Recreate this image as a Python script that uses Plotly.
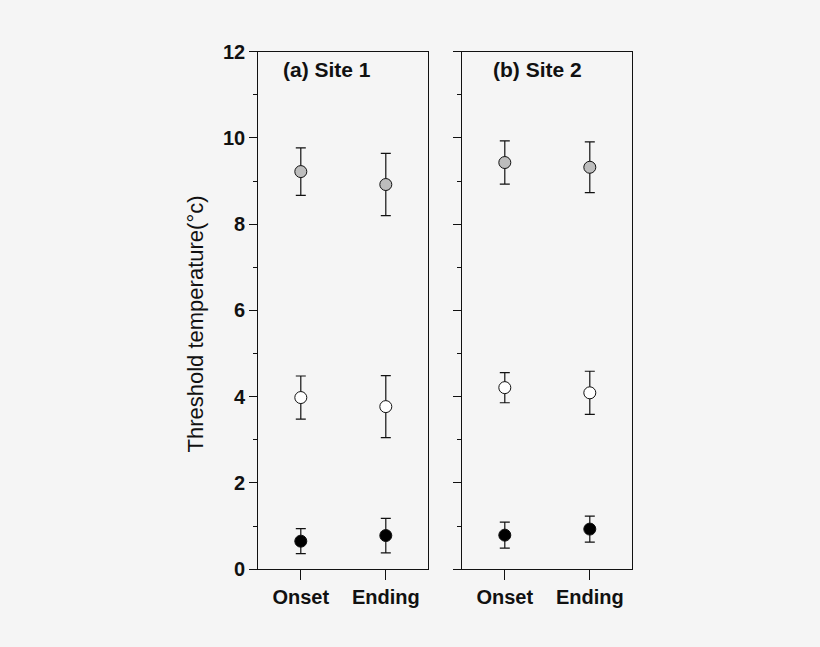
import plotly.graph_objects as go

# threshold temperature readings (°C)
stages = ["Onset", "Ending"]

site1_grey = [9.22, 8.92]
site1_grey_err = [0.55, 0.72]
site1_white = [3.98, 3.77]
site1_white_err = [0.50, 0.72]
site1_black = [0.65, 0.78]
site1_black_err = [0.29, 0.40]

site2_grey = [9.43, 9.32]
site2_grey_err = [0.50, 0.59]
site2_white = [4.21, 4.09]
site2_white_err = [0.35, 0.50]
site2_black = [0.79, 0.93]
site2_black_err = [0.30, 0.30]

panel_titles = ["(a) Site 1", "(b) Site 2"]

BG = "#f5f5f5"
INK = "#111111"
FONT = "Liberation Sans, Arial, sans-serif"

fig = go.Figure()


def add_point_series(xaxis, yaxis, values, errors, fill):
    fig.add_trace(go.Scatter(
        x=stages, y=values, xaxis=xaxis, yaxis=yaxis,
        mode="markers",
        marker=dict(size=12, color=fill, line=dict(color=INK, width=1)),
        error_y=dict(type="data", array=errors, visible=True,
                     color=INK, thickness=1.2, width=5),
        showlegend=False,
    ))


for vals, errs, fill in [(site1_grey, site1_grey_err, "#bdbdbd"),
                         (site1_white, site1_white_err, "#ffffff"),
                         (site1_black, site1_black_err, "#000000")]:
    add_point_series("x", "y", vals, errs, fill)

for vals, errs, fill in [(site2_grey, site2_grey_err, "#bdbdbd"),
                         (site2_white, site2_white_err, "#ffffff"),
                         (site2_black, site2_black_err, "#000000")]:
    add_point_series("x2", "y2", vals, errs, fill)

W, H = 820, 647
y_dom = [(H - 569.2) / H, (H - 51.7) / H]

xaxis_common = dict(
    type="category", range=[-0.5, 1.5], automargin=False,
    showline=True, linecolor=INK, linewidth=1.2, mirror=True,
    ticks="outside", ticklen=10, tickcolor=INK, tickwidth=1.2,
    tickfont=dict(family=FONT, size=20, color=INK, weight="bold"),
    showgrid=False, zeroline=False, fixedrange=True,
)
yaxis_common = dict(
    range=[0, 12], dtick=2, tick0=0, domain=y_dom, automargin=False,
    showline=True, linecolor=INK, linewidth=1.2, mirror=True,
    ticks="outside", ticklen=8, tickcolor=INK, tickwidth=1.2,
    minor=dict(dtick=1, ticks="outside", ticklen=4, tickcolor=INK, tickwidth=1.2),
    tickfont=dict(family=FONT, size=20, color=INK, weight="bold"),
    showgrid=False, zeroline=False, fixedrange=True,
)

fig.update_layout(
    width=W, height=H,
    margin=dict(l=0, r=0, t=0, b=0),
    paper_bgcolor=BG, plot_bgcolor=BG,
    xaxis=dict(xaxis_common, domain=[258.3 / W, 428.3 / W], anchor="y"),
    xaxis2=dict(xaxis_common, domain=[462.3 / W, 632.3 / W], anchor="y2"),
    yaxis=dict(yaxis_common, anchor="x"),
    yaxis2=dict(yaxis_common, anchor="x2", showticklabels=False),
)

fig.add_annotation(text=panel_titles[0], xref="x domain", yref="y domain",
                   x=0.405, y=0.966, xanchor="center", yanchor="middle",
                   showarrow=False,
                   font=dict(family=FONT, size=21, color=INK, weight="bold"))
fig.add_annotation(text=panel_titles[1], xref="x2 domain", yref="y2 domain",
                   x=0.445, y=0.966, xanchor="center", yanchor="middle",
                   showarrow=False,
                   font=dict(family=FONT, size=21, color=INK, weight="bold"))
fig.add_annotation(text="Threshold temperature(°c)", xref="paper", yref="paper",
                   x=195 / W, y=(H - 324.5) / H, xanchor="center", yanchor="middle",
                   textangle=-90, showarrow=False,
                   font=dict(family=FONT, size=22, color=INK))

fig.write_html("out.html", config={"displayModeBar": False},
               post_script="document.body.style.margin='0px';")
